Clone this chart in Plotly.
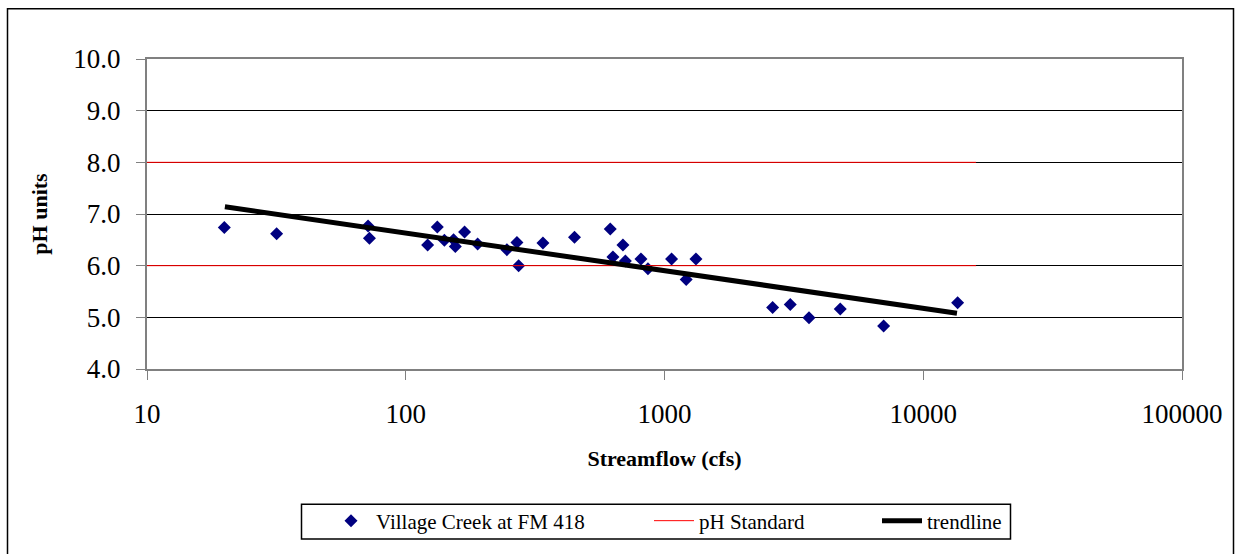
import plotly.graph_objects as go

# ---- data ----
flow_cfs = [19.9, 31.7, 71.5, 72.4, 121.5, 132.4, 141, 153, 155.4, 168.8, 189.6,
            246, 269, 273, 339, 449, 617, 632, 691, 706, 811, 863, 1065, 1213,
            1323, 2617, 3062, 3619, 4777, 7030, 13580]
ph_values = [6.74, 6.62, 6.77, 6.53, 6.40, 6.75, 6.49, 6.50, 6.37, 6.65, 6.42,
             6.31, 6.45, 6.00, 6.44, 6.55, 6.71, 6.17, 6.40, 6.09, 6.13, 5.94,
             6.13, 5.73, 6.13, 5.19, 5.25, 4.99, 5.16, 4.83, 5.28]

std_x = [10, 16000, None, 10, 16000]
std_y = [6.0, 6.0, None, 8.0, 8.0]

trend_x = [20, 13500]
trend_y = [7.14, 5.08]

y_ticks = [4, 5, 6, 7, 8, 9, 10]
x_ticks = [10, 100, 1000, 10000, 100000]

FONT = "'Times New Roman', 'Liberation Serif', serif"
W, H = 1241, 554
L, R, T, B = 147, 1182, 59, 371  # plot area pixels
pw, ph = R - L, B - T


def px_x(x):
    return (x - L) / pw


def px_y(y):
    return (B - y) / ph


fig = go.Figure()
fig.add_trace(go.Scatter(
    x=flow_cfs, y=ph_values, mode="markers", name="Village Creek at FM 418",
    marker=dict(symbol="diamond", size=10, color="#000080"), legend="legend"))
fig.add_trace(go.Scatter(
    x=std_x, y=std_y, mode="lines", name="pH Standard",
    line=dict(color="#FF0000", width=1), legend="legend2"))
fig.add_trace(go.Scatter(
    x=trend_x, y=trend_y, mode="lines", name="trendline",
    line=dict(color="#000000", width=5), legend="legend3"))

leg_common = dict(orientation="h", xanchor="left", yanchor="middle",
                  bgcolor="rgba(0,0,0,0)", borderwidth=0, itemwidth=40,
                  font=dict(family=FONT, size=21, color="#000"))
leg_y = px_y(524)

fig.update_layout(
    width=W, height=H,
    showlegend=True,
    margin=dict(l=L, r=W - R, t=T, b=H - B),
    paper_bgcolor="white", plot_bgcolor="white",
    font=dict(family=FONT, color="#000"),
    legend=dict(x=px_x(326), y=leg_y, **leg_common),
    legend2=dict(x=px_x(649), y=leg_y, **leg_common),
    legend3=dict(x=px_x(877), y=leg_y, **leg_common),
    xaxis=dict(
        type="log", range=[1, 5], tickvals=x_ticks,
        ticktext=[str(v) for v in x_ticks],
        showgrid=False, zeroline=False,
        showline=True, linecolor="#808080", linewidth=2, mirror=True,
        ticks="outside", ticklen=9, tickcolor="#808080", tickwidth=1,
        tickfont=dict(family=FONT, size=27, color="#000"),
        ticklabelstandoff=11,
        title=dict(text="<b>Streamflow (cfs)</b>", standoff=22,
                   font=dict(family=FONT, size=22, color="#000")),
    ),
    yaxis=dict(
        range=[4, 10], tickvals=y_ticks, tickformat=".1f",
        showgrid=True, gridcolor="#000000", gridwidth=1, zeroline=False,
        showline=True, linecolor="#808080", linewidth=2, mirror=True,
        ticks="outside", ticklen=9, tickcolor="#808080", tickwidth=1,
        tickfont=dict(family=FONT, size=27, color="#000"),
        ticklabelstandoff=10,
        title=dict(text="<b>pH units</b>", standoff=20,
                   font=dict(family=FONT, size=22, color="#000")),
    ),
    shapes=[
        # outer chart border
        dict(type="rect", xref="paper", yref="paper",
             x0=px_x(7.5), x1=px_x(1233.5), y0=px_y(8.5), y1=px_y(560),
             line=dict(color="#000", width=1.5), fillcolor="rgba(0,0,0,0)",
             layer="below"),
        # legend box
        dict(type="rect", xref="paper", yref="paper",
             x0=px_x(301.5), x1=px_x(1010.5), y0=px_y(507), y1=px_y(542),
             line=dict(color="#000", width=1.5), fillcolor="rgba(0,0,0,0)"),
    ],
)

fig.write_html("out.html")
